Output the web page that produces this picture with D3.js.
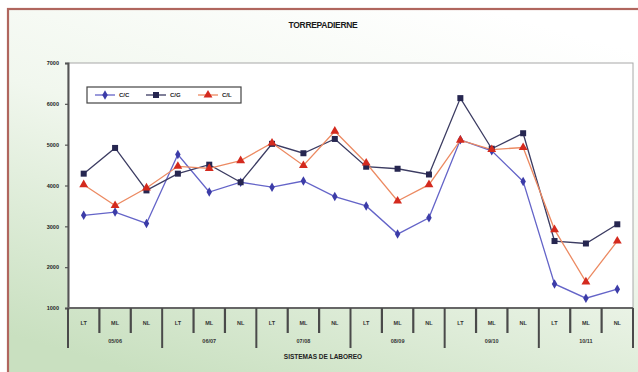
<!DOCTYPE html>
<html>
<head>
<meta charset="utf-8">
<script src="https://cdn.jsdelivr.net/npm/d3@7"></script>
<style>
  html, body { margin: 0; padding: 0; background: #fff; }
  svg { display: block; font-family: "Liberation Sans", Arial, sans-serif; }
</style>
</head>
<body>
<svg id="chart" width="638" height="372"></svg>
<script>
// Tillage systems per campaign
const systems = ["LT", "ML", "NL"];
const campaigns = ["05/06", "06/07", "07/08", "08/09", "09/10", "10/11"];
const seriesNames = ["C/C", "C/G", "C/L"];

// Yields (kg/ha) per campaign and tillage system, in order LT, ML, NL
const yieldCC = [3270, 3350, 3070, 4760, 3840, 4080, 3960, 4110, 3730, 3500, 2810, 3210, 5120, 4850, 4100, 1590, 1240, 1460];
const yieldCG = [4290, 4920, 3880, 4290, 4510, 4080, 5020, 4790, 5140, 4460, 4410, 4270, 6140, 4900, 5280, 2640, 2580, 3050];
const yieldCL = [4020, 3510, 3940, 4470, 4420, 4610, 5040, 4490, 5330, 4550, 3620, 4020, 5110, 4880, 4930, 2920, 1640, 2640];

const yTicks = [1000, 2000, 3000, 4000, 5000, 6000, 7000];

const categories = [];
campaigns.forEach(c => systems.forEach(s => categories.push(c + "|" + s)));

const series = [
  { name: seriesNames[0], values: yieldCC, line: "#6464c8", fill: "#3c3ca8", marker: "diamond" },
  { name: seriesNames[1], values: yieldCG, line: "#3c3c62", fill: "#262650", marker: "square" },
  { name: seriesNames[2], values: yieldCL, line: "#ec8a62", fill: "#d42a1e", marker: "triangle" }
];

const svg = d3.select("#chart");
const W = 638, H = 372;

// background gradient
const defs = svg.append("defs");
const bg = defs.append("linearGradient").attr("id", "bg")
  .attr("x1", "0.75").attr("y1", "0").attr("x2", "0.25").attr("y2", "1");
bg.append("stop").attr("offset", "0%").attr("stop-color", "#ffffff");
bg.append("stop").attr("offset", "45%").attr("stop-color", "#f1f7ee");
bg.append("stop").attr("offset", "100%").attr("stop-color", "#c9e0c0");
svg.append("rect").attr("width", W).attr("height", H).attr("fill", "#ffffff");
svg.append("rect").attr("x", 8).attr("y", 9).attr("width", W).attr("height", H)
  .attr("fill", "url(#bg)").attr("stroke", "#b0665e").attr("stroke-width", 2.2);

const plot = { left: 68, right: 633, top: 63, bottom: 308 };

const x = d3.scaleBand().domain(categories).range([plot.left, plot.right]).padding(0);
const y = d3.scaleLinear().domain([1000, 7000]).range([plot.bottom, plot.top]);

// plot area
svg.append("rect")
  .attr("x", plot.left).attr("y", plot.top)
  .attr("width", plot.right - plot.left).attr("height", plot.bottom - plot.top)
  .attr("fill", "#ffffff").attr("stroke", "#a8a8a8").attr("stroke-width", 1);

// title
svg.append("text").attr("x", 323).attr("y", 28).attr("text-anchor", "middle")
  .attr("font-size", 8.5).attr("font-weight", "bold").attr("fill", "#1a1a1a")
  .attr("letter-spacing", -0.3)
  .text("TORREPADIERNE");

// y axis
const yAxis = d3.axisLeft(y).tickValues(yTicks).tickSize(3).tickFormat(d3.format("d"));
const gy = svg.append("g").attr("transform", `translate(${plot.left},0)`).call(yAxis);
gy.select(".domain").attr("stroke", "#555").attr("stroke-width", 2);
gy.selectAll(".tick line").attr("stroke", "#555").attr("stroke-width", 1.2);
gy.selectAll(".tick text").attr("x", -9).attr("font-size", 5.5).attr("font-weight", "bold")
  .attr("fill", "#222").attr("font-family", "Liberation Sans, Arial, sans-serif");

// category axis baseline
svg.append("line").attr("x1", plot.left).attr("x2", plot.right)
  .attr("y1", plot.bottom).attr("y2", plot.bottom)
  .attr("stroke", "#666").attr("stroke-width", 2);

// inner category axis (tillage systems)
const xAxis = d3.axisBottom(x).tickSize(0).tickFormat(d => d.split("|")[1]);
const gx = svg.append("g").attr("transform", `translate(0,${plot.bottom})`).call(xAxis);
gx.select(".domain").remove();
gx.selectAll(".tick text").attr("dy", 0).attr("y", 17).attr("font-size", 5.5)
  .attr("font-weight", "bold").attr("fill", "#333")
  .attr("font-family", "Liberation Sans, Arial, sans-serif");

// separators between categories
const bw = x.bandwidth();
categories.forEach((c, i) => {
  const xpos = x(c);
  const groupStart = i % systems.length === 0;
  svg.append("line")
    .attr("x1", xpos).attr("x2", xpos)
    .attr("y1", plot.bottom).attr("y2", groupStart ? 348 : 333)
    .attr("stroke", "#4a4a4a").attr("stroke-width", groupStart ? 2 : 2.2);
});
svg.append("line").attr("x1", plot.right).attr("x2", plot.right)
  .attr("y1", plot.bottom).attr("y2", 348).attr("stroke", "#4a4a4a").attr("stroke-width", 2);

// campaign labels
campaigns.forEach(c => {
  const cx = x(c + "|" + systems[1]) + bw / 2;
  svg.append("text").attr("x", cx).attr("y", 343).attr("text-anchor", "middle")
    .attr("font-size", 5.5).attr("font-weight", "bold").attr("fill", "#333").text(c);
});

// axis title
svg.append("text").attr("x", 323).attr("y", 359).attr("text-anchor", "middle")
  .attr("font-size", 6.5).attr("font-weight", "bold").attr("fill", "#222")
  .text("SISTEMAS DE LABOREO");

// markers
function drawMarker(g, type, cx, cy, fill) {
  if (type === "square") {
    g.append("rect").attr("x", cx - 3).attr("y", cy - 3).attr("width", 6).attr("height", 6)
      .attr("fill", fill);
  } else if (type === "triangle") {
    g.append("path").attr("d", d3.symbol().type(d3.symbolTriangle).size(34)())
      .attr("transform", `translate(${cx},${cy})`).attr("fill", fill);
  } else {
    g.append("path").attr("d", d3.symbol().type(d3.symbolDiamond).size(26)())
      .attr("transform", `translate(${cx},${cy})`).attr("fill", fill);
  }
}

const line = d3.line()
  .x((d, i) => x(categories[i]) + bw / 2)
  .y(d => y(d));

series.forEach(s => {
  svg.append("path").datum(s.values)
    .attr("d", line).attr("fill", "none")
    .attr("stroke", s.line).attr("stroke-width", 1.3);
});
series.forEach(s => {
  const g = svg.append("g");
  s.values.forEach((v, i) => drawMarker(g, s.marker, x(categories[i]) + bw / 2, y(v), s.fill));
});

// legend
const lg = svg.append("g");
lg.append("rect").attr("x", 87).attr("y", 87).attr("width", 154).attr("height", 16)
  .attr("fill", "#ffffff").attr("stroke", "#444").attr("stroke-width", 1.2);
const legendX = [95, 146, 198];
series.forEach((s, i) => {
  const lx = legendX[i];
  lg.append("line").attr("x1", lx).attr("x2", lx + 20).attr("y1", 95).attr("y2", 95)
    .attr("stroke", s.line).attr("stroke-width", 1.3);
  drawMarker(lg, s.marker, lx + 10, 95, s.fill);
  lg.append("text").attr("x", lx + 24).attr("y", 97).attr("font-size", 6)
    .attr("font-weight", "bold").attr("fill", "#222").text(s.name);
});
</script>
</body>
</html>
